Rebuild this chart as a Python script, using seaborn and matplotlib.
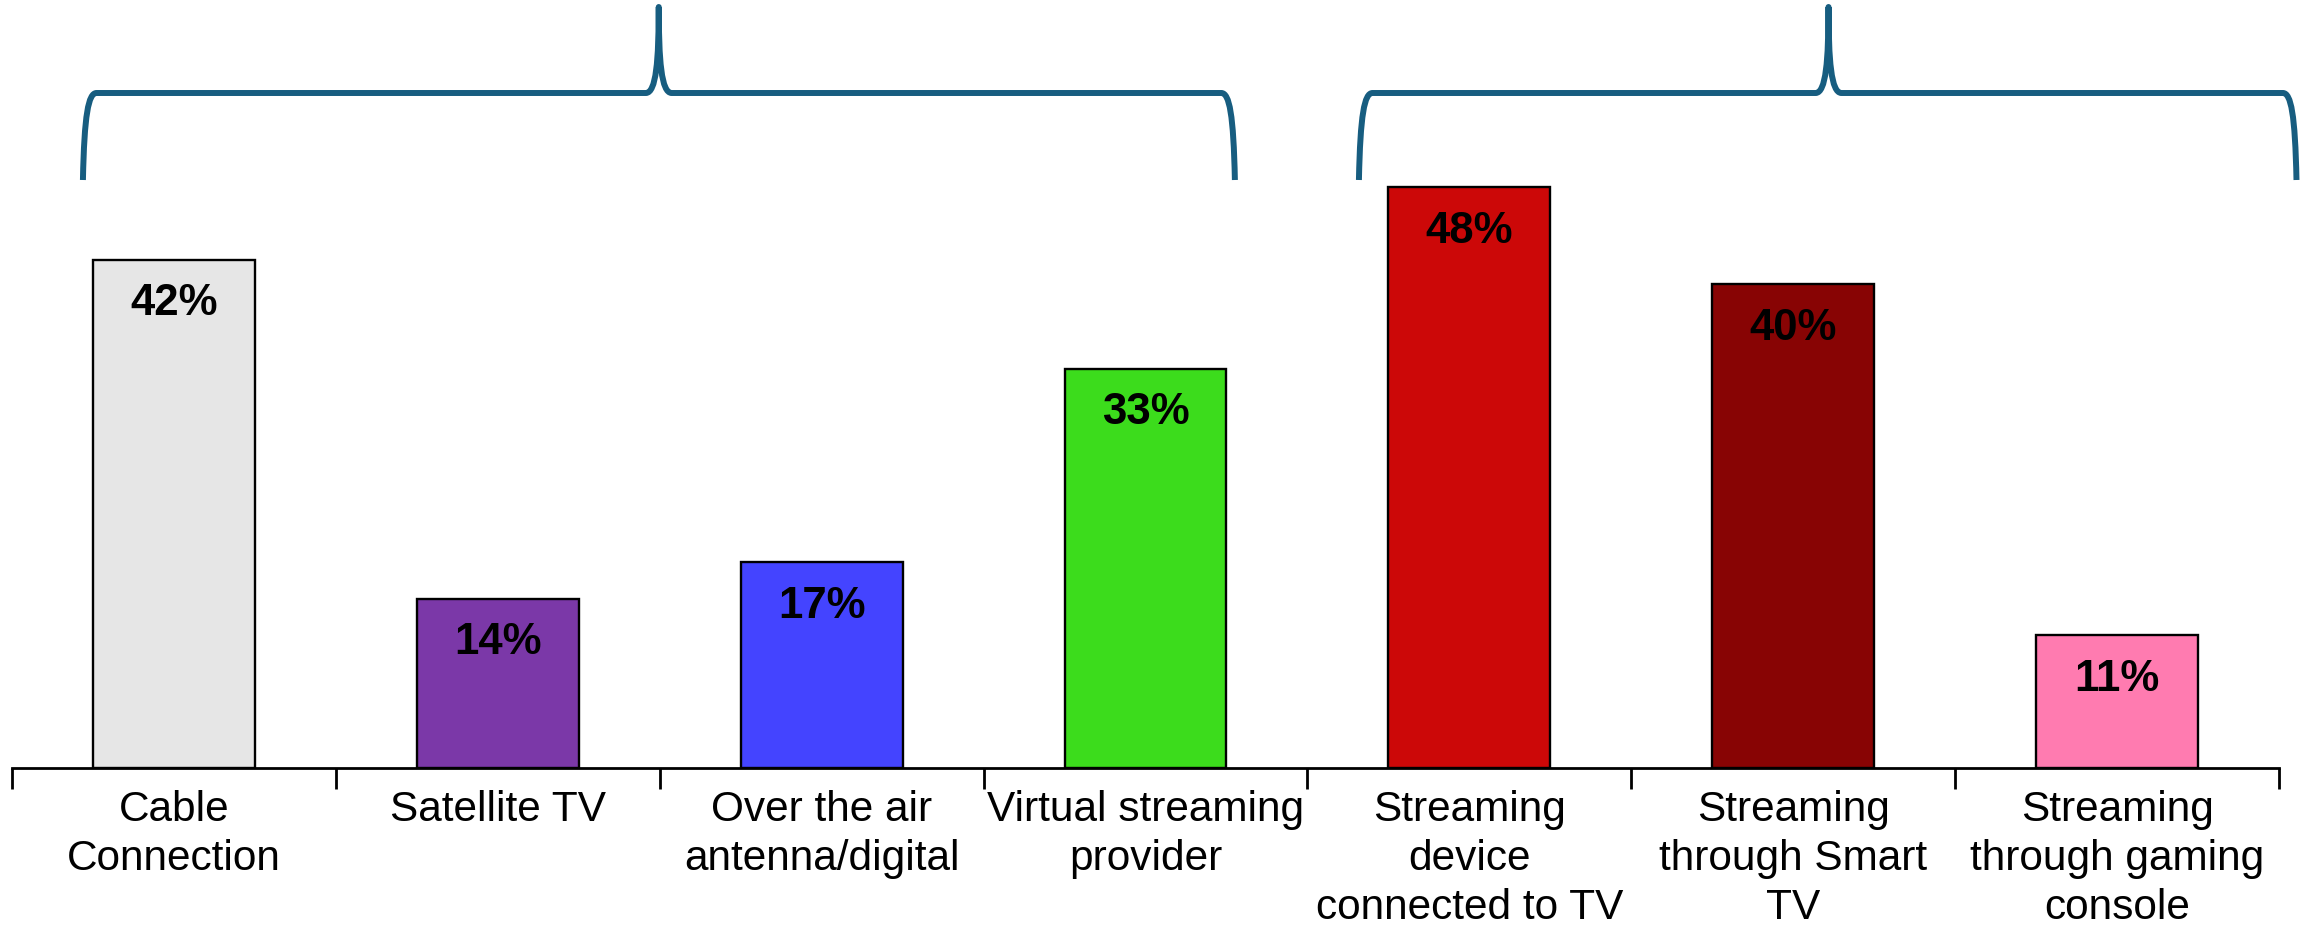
import matplotlib
matplotlib.use("Agg")
import matplotlib.pyplot as plt
from matplotlib.path import Path
from matplotlib.patches import PathPatch
from matplotlib.transforms import blended_transform_factory
import seaborn as sns
import pandas as pd

# Survey data: share of households using each way of watching TV
categories = [
    "Cable\nConnection",
    "Satellite TV",
    "Over the air\nantenna/digital",
    "Virtual streaming\nprovider",
    "Streaming\ndevice\nconnected to TV",
    "Streaming\nthrough Smart\nTV",
    "Streaming\nthrough gaming\nconsole",
]
values = [42, 14, 17, 33, 48, 40, 11]
bar_colors = ["#E6E6E6", "#7B38A8", "#4444FF", "#3CDC1C", "#CC0808", "#880404", "#FF7BB0"]
value_labels = [f"{v}%" for v in values]

df = pd.DataFrame({"category": categories, "value": values})

sns.set_style("white")
plt.rcParams["font.family"] = ["Liberation Sans", "DejaVu Sans"]

fig = plt.figure(figsize=(23.16, 9.25), dpi=100)
ax = fig.add_axes([12 / 2316, 157 / 925, (2279 - 12) / 2316, 0.7195])

sns.barplot(
    data=df, x="category", y="value", hue="category",
    palette=bar_colors, legend=False, width=0.5,
    edgecolor="black", linewidth=1.7, saturation=1, ax=ax,
)

ax.set_xlim(-0.5, len(categories) - 0.5)
ax.set_ylim(0, 55)
ax.set_xlabel("")
ax.set_ylabel("")
ax.set_yticks([])

for side in ("left", "right", "top"):
    ax.spines[side].set_visible(False)
ax.spines["bottom"].set_linewidth(2)
ax.spines["bottom"].set_color("black")

# Category labels centred, boundary ticks between categories
ax.set_xticks(range(len(categories)))
ax.set_xticklabels(categories, fontsize=30.5, linespacing=1.28, color="black")
ax.tick_params(axis="x", which="major", length=0, pad=16)
ax.set_xticks([i - 0.5 for i in range(len(categories) + 1)], minor=True)
ax.tick_params(axis="x", which="minor", length=15, width=2, color="black", direction="out", bottom=True)

# Value labels inside the top of each bar
for i, (v, lab) in enumerate(zip(values, value_labels)):
    ax.annotate(lab, xy=(i, v), xytext=(0, -17), textcoords="offset points",
                ha="center", va="top", fontsize=31.5, fontweight="bold", color="black")

# Curly braces grouping the two sets of options
trans = blended_transform_factory(ax.transData, fig.transFigure)
y_top, y_mid, y_end = 1 - 7 / 925, 1 - 93 / 925, 1 - 180 / 925


def brace(x0, x1, xc):
    dx = 0.042
    dt = 0.04
    h = y_mid - y_end
    verts = [
        (x0, y_end),
        (x0 + dx * 0.1, y_mid - 0.25 * h), (x0 + dx * 0.4, y_mid), (x0 + dx, y_mid),
        (xc - dt, y_mid),
        (xc - dt * 0.2, y_mid), (xc, y_mid + 0.035), (xc, y_top),
        (xc, y_mid + 0.035), (xc + dt * 0.2, y_mid), (xc + dt, y_mid),
        (x1 - dx, y_mid),
        (x1 - dx * 0.4, y_mid), (x1 - dx * 0.1, y_mid - 0.25 * h), (x1, y_end),
    ]
    codes = [Path.MOVETO,
             Path.CURVE4, Path.CURVE4, Path.CURVE4,
             Path.LINETO,
             Path.CURVE4, Path.CURVE4, Path.CURVE4,
             Path.CURVE4, Path.CURVE4, Path.CURVE4,
             Path.LINETO,
             Path.CURVE4, Path.CURVE4, Path.CURVE4]
    patch = PathPatch(Path(verts, codes), transform=trans, fill=False,
                      edgecolor="#175D80", linewidth=4.3, clip_on=False,
                      capstyle="butt", joinstyle="round")
    fig.add_artist(patch)


brace(-0.281, 3.276, 1.497)
brace(3.659, 6.554, 5.109)

fig.savefig("out.png", dpi=100, facecolor="white")
